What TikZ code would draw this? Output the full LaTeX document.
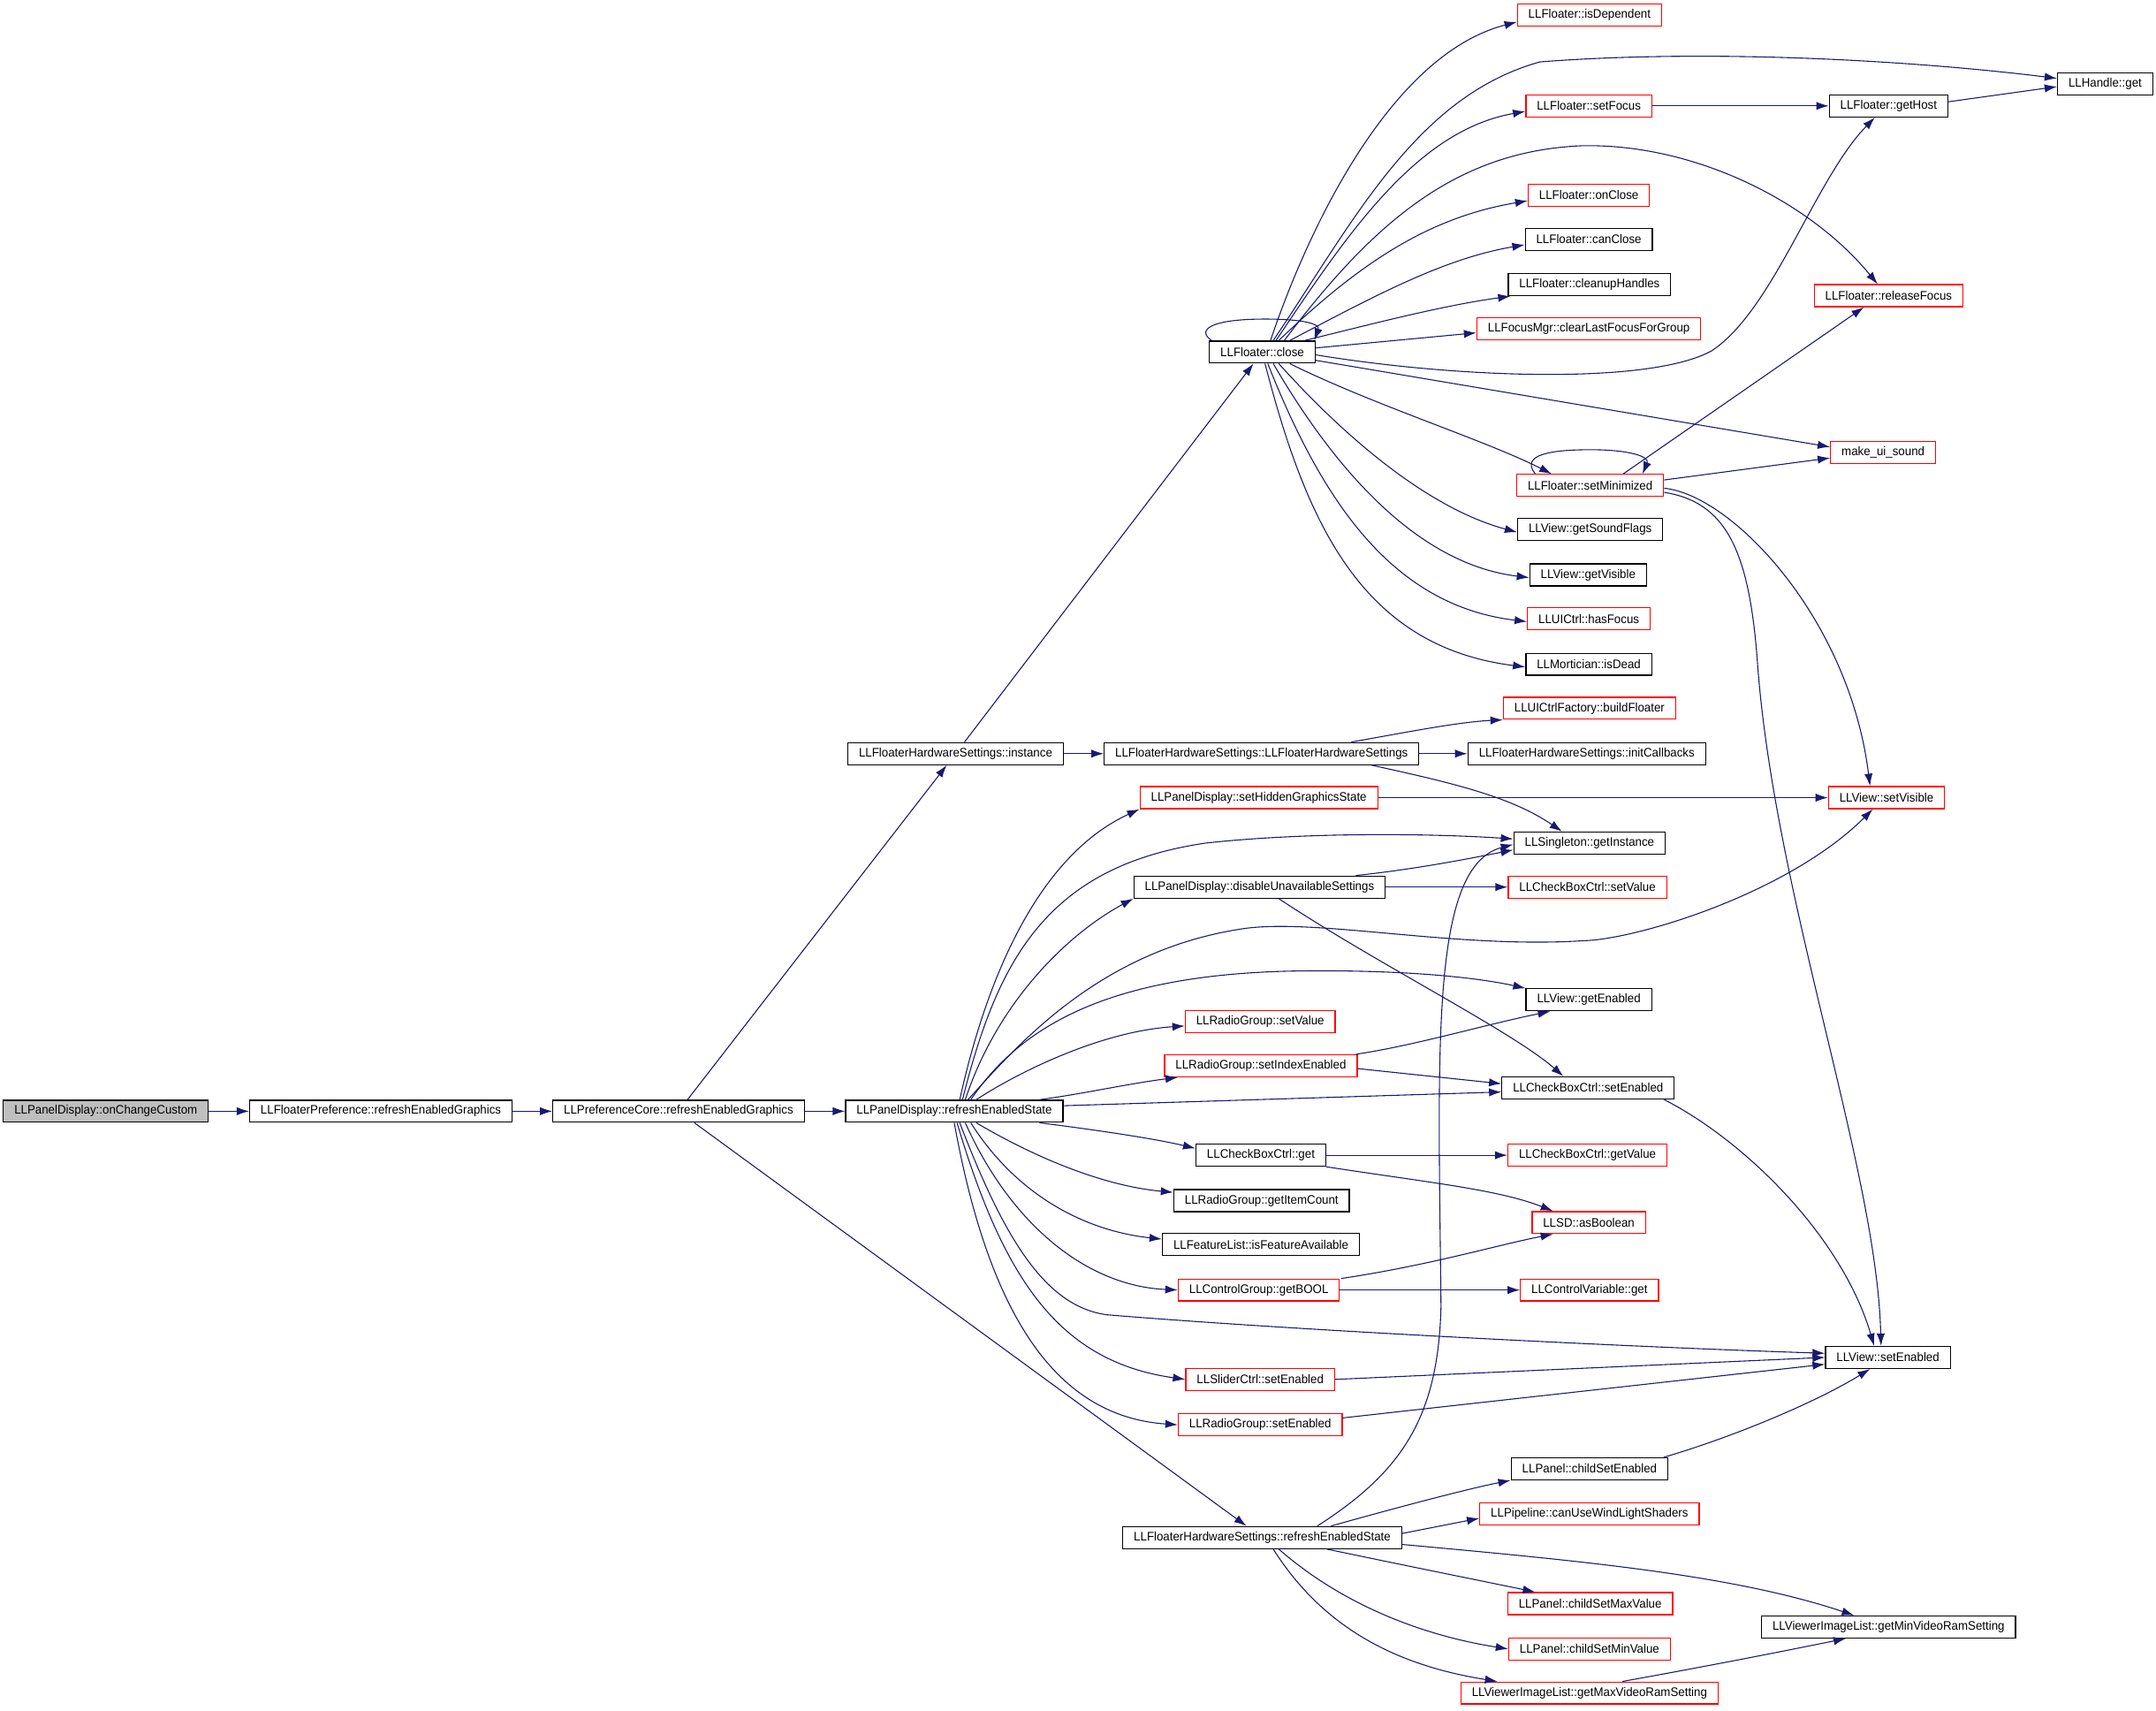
\documentclass[tikz,border=0pt]{standalone}
\usepackage{fontspec}
\newfontfamily\dxfont{Liberation Sans}[FakeStretch=0.95]
\usepackage{tikz}
\usetikzlibrary{arrows.meta}
\definecolor{edgeblue}{RGB}{25,25,112}
\definecolor{rootgray}{RGB}{191,191,191}

\begin{document}
\begin{tikzpicture}[
		x=1pt, y=-1pt,
		box/.style={rectangle, draw=#1, line width=0.8pt, minimum height=16pt, inner xsep=8pt, inner ysep=0pt, font=\dxfont\fontsize{9}{10}\selectfont},
		box/.default=black,
		line/.style={draw=edgeblue, line width=0.7pt, -{Latex[length=9pt,width=6pt]}}
		]
		\fill[white] (0,0) rectangle (1568,1244);
		
		% Caller chain
		\node[box, fill=rootgray] (oncc) at (77,808) {LLPanelDisplay::onChangeCustom};
		\node[box] (fpref) at (277,808) {LLFloaterPreference::refreshEnabledGraphics};
		\node[box] (pcore) at (493.5,808) {LLPreferenceCore::refreshEnabledGraphics};
		\node[box] (pdres) at (694,808) {LLPanelDisplay::refreshEnabledState};
		\node[box] (fhsinst) at (695,548) {LLFloaterHardwareSettings::instance};
		\node[box] (fhsctor) at (917.5,548) {LLFloaterHardwareSettings::LLFloaterHardwareSettings};
		\node[box] (fhsres) at (918,1118) {LLFloaterHardwareSettings::refreshEnabledState};
		\node[box] (fclose) at (918,256) {LLFloater::close};
		
		% Called by LLFloater::close
		\node[box=red] (isdep) at (1156,11) {LLFloater::isDependent};
		\node[box=red] (setfocus) at (1155.5,77) {LLFloater::setFocus};
		\node[box=red] (onclose) at (1155.5,142) {LLFloater::onClose};
		\node[box] (canclose) at (1155.5,174) {LLFloater::canClose};
		\node[box] (cleanup) at (1156,207) {LLFloater::cleanupHandles};
		\node[box=red] (clearfocus) at (1155.5,239) {LLFocusMgr::clearLastFocusForGroup};
		\node[box=red] (setmin) at (1156.5,353) {LLFloater::setMinimized};
		\node[box] (soundflags) at (1156.5,385) {LLView::getSoundFlags};
		\node[box] (getvisible) at (1155,418) {LLView::getVisible};
		\node[box=red] (hasfocus) at (1155.5,450) {LLUICtrl::hasFocus};
		\node[box] (isdead) at (1155.5,483) {LLMortician::isDead};
		
		% Called by the constructor
		\node[box=red] (buildfl) at (1156,515) {LLUICtrlFactory::buildFloater};
		\node[box] (initcb) at (1154,548) {LLFloaterHardwareSettings::initCallbacks};
		\node[box] (getinst) at (1156,613) {LLSingleton::getInstance};
		
		% Called by LLPanelDisplay::refreshEnabledState
		\node[box=red] (sethidden) at (915.5,580) {LLPanelDisplay::setHiddenGraphicsState};
		\node[box] (disable) at (916,645) {LLPanelDisplay::disableUnavailableSettings};
		\node[box=red] (cbsetval) at (1154.5,645) {LLCheckBoxCtrl::setValue};
		\node[box] (getenabled) at (1155.5,727) {LLView::getEnabled};
		\node[box=red] (rgsetval) at (916.5,743) {LLRadioGroup::setValue};
		\node[box=red] (setidx) at (917,775) {LLRadioGroup::setIndexEnabled};
		\node[box] (cbsetenabled) at (1155,791) {LLCheckBoxCtrl::setEnabled};
		\node[box] (cbget) at (917,840) {LLCheckBoxCtrl::get};
		\node[box=red] (cbgetval) at (1154.5,840) {LLCheckBoxCtrl::getValue};
		\node[box] (itemcount) at (917.5,873) {LLRadioGroup::getItemCount};
		\node[box=red] (asbool) at (1155.5,889) {LLSD::asBoolean};
		\node[box] (featavail) at (917,905) {LLFeatureList::isFeatureAvailable};
		\node[box=red] (getbool) at (915.5,938) {LLControlGroup::getBOOL};
		\node[box=red] (cvget) at (1156,938) {LLControlVariable::get};
		\node[box=red] (slsetenabled) at (916.5,1003) {LLSliderCtrl::setEnabled};
		\node[box=red] (rgsetenabled) at (916.5,1036) {LLRadioGroup::setEnabled};
		
		% Called by LLFloaterHardwareSettings::refreshEnabledState
		\node[box] (childenabled) at (1156,1068) {LLPanel::childSetEnabled};
		\node[box=red] (windlight) at (1156,1101) {LLPipeline::canUseWindLightShaders};
		\node[box=red] (childmax) at (1156.5,1166) {LLPanel::childSetMaxValue};
		\node[box=red] (childmin) at (1156,1199) {LLPanel::childSetMinValue};
		\node[box=red] (maxvram) at (1156,1231) {LLViewerImageList::getMaxVideoRamSetting};
		
		% Far right column
		\node[box] (handleget) at (1531,61) {LLHandle::get};
		\node[box] (gethost) at (1373.5,77) {LLFloater::getHost};
		\node[box=red] (releasefocus) at (1373.5,215) {LLFloater::releaseFocus};
		\node[box=red] (uisound) at (1369.5,329) {make\_ui\_sound};
		\node[box=red] (setvisible) at (1372,580) {LLView::setVisible};
		\node[box] (viewsetenabled) at (1373,987) {LLView::setEnabled};
		\node[box] (minvram) at (1373.5,1183) {LLViewerImageList::getMinVideoRamSetting};
		
		% Caller chain connections
		\path[line] (oncc) -- (fpref);
		\path[line] (fpref) -- (pcore);
		\path[line] (pcore) -- (pdres);
		\path[line] (pcore) -- (fhsinst);
		\path[line] (pcore) -- (fhsres);
		\path[line] (fhsinst) -- (fhsctor);
		\path[line] (fhsinst) -- (fclose);
		
		% LLFloater::close
		\path[line] ([xshift=6pt]fclose.north) .. controls (950,170) and (1010,40) .. ([yshift=-5pt]isdep.west);
		\path[line] ([xshift=8pt]fclose.north) .. controls (985,160) and (1030,70) .. (1120,45) .. controls (1250,35) and (1400,45) .. ([yshift=4pt]handleget.west);
		\path[line] ([xshift=10pt]fclose.north) .. controls (980,170) and (1030,95) .. ([yshift=-4pt]setfocus.west);
		\path[line] ([xshift=16pt]fclose.north) .. controls (1000,160) and (1060,110) .. (1150,106) .. controls (1230,104) and (1315,145) .. ([xshift=-8pt]releasefocus.north);
		\path[line] ([xshift=12pt]fclose.north) .. controls (990,190) and (1040,158) .. ([yshift=-4pt]onclose.west);
		\path[line] ([xshift=20pt]fclose.north) .. controls (1000,215) and (1050,188) .. ([yshift=-4pt]canclose.west);
		\path[line] ([xshift=-8pt]fclose.north east) .. controls (1000,235) and (1050,222) .. ([xshift=2pt]cleanup.south west);
		\path[line] ([yshift=3pt]fclose.east) -- ([yshift=-3pt]clearfocus.west);
		\path[line] ([xshift=2pt]fclose.north west) .. controls (870,240) and (880,232) .. (920,232) .. controls (950,232) and (960,236) .. ([xshift=-1pt]fclose.north east);
		\path[line] ([yshift=-2pt]fclose.east) .. controls (1060,275) and (1200,280) .. (1245,255) .. controls (1290,225) and (1320,130) .. ([xshift=-10pt]gethost.south);
		\path[line] ([yshift=-6pt]fclose.east) -- ([yshift=4pt]uisound.west);
		\path[line] ([xshift=20pt]fclose.south) .. controls (1000,295) and (1080,320) .. ([xshift=-28pt]setmin.north);
		\path[line] ([xshift=12pt]fclose.south) .. controls (980,320) and (1040,370) .. ([yshift=-2pt]soundflags.west);
		\path[line] ([xshift=8pt]fclose.south) .. controls (970,340) and (1030,410) .. ([yshift=-2pt]getvisible.west);
		\path[line] ([xshift=4pt]fclose.south) .. controls (960,360) and (1010,440) .. ([yshift=-2pt]hasfocus.west);
		\path[line] ([xshift=2pt]fclose.south) .. controls (950,380) and (990,470) .. ([yshift=-2pt]isdead.west);
		
		\path[line] (setfocus) -- (gethost);
		\path[line] ([yshift=3pt]gethost.east) -- ([yshift=-2pt]handleget.west);
		
		% LLFloater::setMinimized
		\path[line] ([xshift=-40pt]setmin.north) .. controls (1105,330) and (1130,327) .. (1157,327) .. controls (1185,327) and (1200,332) .. ([xshift=38pt]setmin.north);
		\path[line] ([yshift=4pt]setmin.east) -- ([yshift=-4pt]uisound.west);
		\path[line] ([xshift=24pt]setmin.north) -- ([xshift=-18pt]releasefocus.south);
		\path[line] ([yshift=-2pt]setmin.east) .. controls (1260,360) and (1345,450) .. ([xshift=-12pt]setvisible.north);
		\path[line] ([yshift=-5pt]setmin.east) .. controls (1255,365) and (1272,400) .. (1278,480) .. controls (1290,650) and (1365,850) .. ([xshift=-5pt]viewsetenabled.north);
		
		% Constructor
		\path[line] ([xshift=65pt]fhsctor.north) .. controls (1020,533) and (1060,525) .. (buildfl.south west);
		\path[line] (fhsctor) -- (initcb);
		\path[line] ([xshift=80pt]fhsctor.south) .. controls (1060,570) and (1100,580) .. ([xshift=-20pt]getinst.north);
		
		% LLPanelDisplay::refreshEnabledState
		\path[line] ([xshift=4pt]pdres.north) .. controls (720,700) and (760,620) .. (sethidden.south west);
		\path[line] ([xshift=6pt]pdres.north) .. controls (725,700) and (760,630) .. (877,613) .. controls (950,605) and (1040,606) .. ([yshift=3pt]getinst.west);
		\path[line] ([xshift=8pt]pdres.north) .. controls (725,730) and (775,680) .. (disable.south west);
		\path[line] ([xshift=10pt]pdres.north) .. controls (740,760) and (800,690) .. (906,675) .. controls (960,668) and (1060,690) .. (1152,684) .. controls (1190,683) and (1300,650) .. ([xshift=-10pt]setvisible.south);
		\path[line] ([xshift=12pt]pdres.north) .. controls (740,750) and (800,708) .. (945,706) .. controls (1030,705) and (1080,712) .. (getenabled.north west);
		\path[line] ([xshift=16pt]pdres.north) .. controls (740,780) and (800,750) .. ([yshift=-3pt]rgsetval.west);
		\path[line] ([xshift=62pt]pdres.north) .. controls (790,795) and (820,788) .. ([xshift=10pt]setidx.south west);
		\path[line] ([yshift=4pt]pdres.east) -- ([yshift=-3pt]cbsetenabled.west);
		\path[line] ([xshift=62pt]pdres.south) .. controls (800,822) and (840,828) .. ([yshift=5pt]cbget.west);
		\path[line] ([xshift=16pt]pdres.south) .. controls (750,840) and (800,862) .. ([yshift=6pt]itemcount.west);
		\path[line] ([xshift=12pt]pdres.south) .. controls (740,870) and (790,895) .. ([yshift=4pt]featavail.west);
		\path[line] ([xshift=8pt]pdres.south) .. controls (735,890) and (790,935) .. (getbool.west);
		\path[line] ([xshift=4pt]pdres.south) .. controls (730,900) and (760,950) .. (805,956) .. controls (950,968) and (1200,980) .. ([yshift=3pt]viewsetenabled.west);
		\path[line] ([xshift=2pt]pdres.south) .. controls (730,930) and (770,990) .. (slsetenabled.west);
		\path[line] (pdres.south) .. controls (720,960) and (770,1030) .. (rgsetenabled.west);
		
		\path[line] (sethidden) -- (setvisible);
		\path[line] ([xshift=70pt]disable.north) .. controls (1030,632) and (1070,624) .. ([yshift=-5pt]getinst.west);
		\path[line] (disable) -- (cbsetval);
		\path[line] ([xshift=14pt]disable.south) .. controls (1000,700) and (1100,750) .. ([xshift=-18pt]cbsetenabled.north);
		\path[line] ([xshift=69pt]setidx.north) .. controls (1030,760) and (1080,745) .. ([xshift=-28pt]getenabled.south);
		\path[line] ([yshift=-2pt]setidx.east) -- ([yshift=3pt]cbsetenabled.west);
		\path[line] ([xshift=55pt]cbsetenabled.south) .. controls (1270,830) and (1340,900) .. ([xshift=-10pt]viewsetenabled.north);
		\path[line] (cbget) -- (cbgetval);
		\path[line] (cbget.south east) .. controls (1040,860) and (1090,865) .. ([xshift=-26pt]asbool.north);
		\path[line] ([xshift=60pt]getbool.north) .. controls (1040,920) and (1090,905) .. ([xshift=-26pt]asbool.south);
		\path[line] (getbool) -- (cvget);
		\path[line] (slsetenabled.east) -- (viewsetenabled.west);
		\path[line] ([yshift=5pt]rgsetenabled.east) -- ([yshift=-5pt]viewsetenabled.west);
		\path[line] ([xshift=54pt]childenabled.north) .. controls (1260,1045) and (1320,1020) .. ([xshift=-13pt]viewsetenabled.south);
		
		% LLFloaterHardwareSettings::refreshEnabledState
		\path[line] ([xshift=40pt]fhsres.north) .. controls (1020,1070) and (1046,1030) .. (1048,950) .. controls (1046,760) and (1040,630) .. ([yshift=-1pt]getinst.west);
		\path[line] ([xshift=50pt]fhsres.north) .. controls (1020,1095) and (1070,1082) .. (childenabled.south west);
		\path[line] ([yshift=3pt]fhsres.east) -- ([yshift=-3pt]windlight.west);
		\path[line] ([yshift=-5pt]fhsres.east) .. controls (1150,1135) and (1260,1145) .. ([xshift=-25pt]minvram.north);
		\path[line] ([xshift=47pt]fhsres.south) .. controls (1030,1140) and (1080,1150) .. ([xshift=-40pt]childmax.north);
		\path[line] ([xshift=12pt]fhsres.south) .. controls (980,1170) and (1040,1190) .. (childmin.west);
		\path[line] ([xshift=8pt]fhsres.south) .. controls (960,1180) and (1010,1210) .. ([xshift=-67pt]maxvram.north);
		\path[line] ([xshift=24pt]maxvram.north) .. controls (1250,1210) and (1300,1200) .. ([xshift=-31pt]minvram.south);
		
\end{tikzpicture}
\end{document}
